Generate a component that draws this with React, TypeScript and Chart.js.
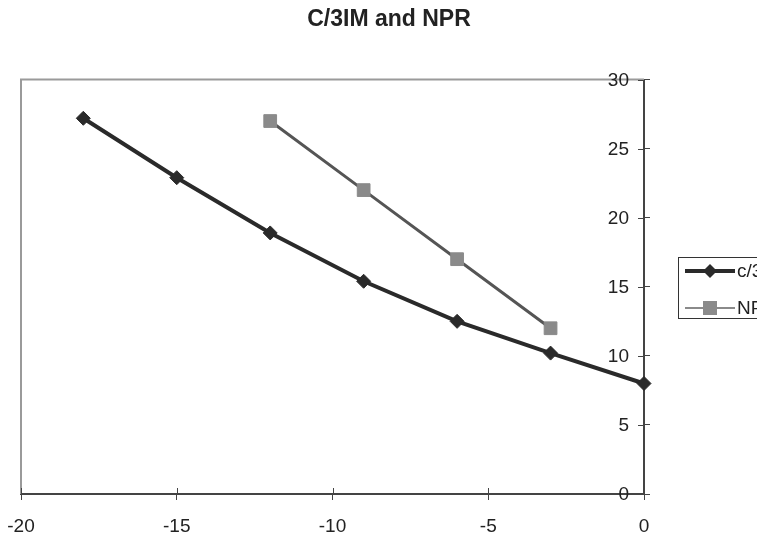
import React, { useEffect, useRef } from "react";
import { Chart, registerables } from "chart.js";

Chart.register(...registerables);

const TITLE = "C/3IM and NPR";
const SERIES_NAMES = ["c/3IM", "NPR"];
const C3IM_X = [-18, -15, -12, -9, -6, -3, 0];
const C3IM_Y = [27.2, 22.9, 18.9, 15.4, 12.5, 10.2, 8];
const NPR_X = [-12, -9, -6, -3];
const NPR_Y = [27, 22, 17, 12];
const X_MIN = -20;
const X_MAX = 0;
const X_STEP = 5;
const Y_MIN = 0;
const Y_MAX = 30;
const Y_STEP = 5;

const FONT = '"Liberation Sans", Arial, Helvetica, sans-serif';
const C3IM_COLOR = "#2a2a2a";
const NPR_LINE = "#555555";
const NPR_MARK = "#8a8a8a";
const AXIS = "#444444";

const decorPlugin = {
  id: "decor",
  beforeDatasetsDraw(chart: any) {
    const { ctx, chartArea } = chart;
    ctx.save();
    ctx.strokeStyle = "#9a9a9a";
    ctx.lineWidth = 2;
    ctx.beginPath();
    ctx.moveTo(chartArea.left, chartArea.bottom);
    ctx.lineTo(chartArea.left, chartArea.top);
    ctx.lineTo(chartArea.right, chartArea.top);
    ctx.stroke();
    // inner halves of the crossing tick marks
    ctx.strokeStyle = AXIS;
    ctx.lineWidth = 1;
    const xs = chart.scales.x;
    const ys = chart.scales.y;
    ctx.beginPath();
    xs.ticks.forEach((t: any) => {
      const px = Math.round(xs.getPixelForValue(t.value)) + 0.5;
      ctx.moveTo(px, chartArea.bottom);
      ctx.lineTo(px, chartArea.bottom - 6);
    });
    ys.ticks.forEach((t: any) => {
      const py = Math.round(ys.getPixelForValue(t.value)) + 0.5;
      ctx.moveTo(chartArea.right, py);
      ctx.lineTo(chartArea.right - 6, py);
    });
    ctx.stroke();
    ctx.restore();
  },
  afterDraw(chart: any) {
    const { ctx, chartArea } = chart;
    ctx.save();
    // y tick labels, placed inside the plot to the left of the axis
    const ys = chart.scales.y;
    ctx.fillStyle = "#222";
    ctx.font = `19px ${FONT}`;
    ctx.textAlign = "right";
    ctx.textBaseline = "middle";
    ys.ticks.forEach((t: any) => {
      const py = ys.getPixelForValue(t.value);
      ctx.fillText(String(t.label), chartArea.right - 15, py + 1);
    });

    // legend
    const bx = chartArea.right + 34;
    const by = 257;
    ctx.fillStyle = "#ffffff";
    ctx.fillRect(bx, by, 200, 61);
    ctx.strokeStyle = "#333";
    ctx.lineWidth = 1;
    ctx.strokeRect(bx + 0.5, by + 0.5, 200, 61);
    const r1 = by + 14;
    ctx.strokeStyle = C3IM_COLOR;
    ctx.lineWidth = 4;
    ctx.beginPath();
    ctx.moveTo(bx + 7, r1);
    ctx.lineTo(bx + 57, r1);
    ctx.stroke();
    ctx.fillStyle = C3IM_COLOR;
    ctx.beginPath();
    const cx = bx + 32;
    ctx.moveTo(cx, r1 - 7);
    ctx.lineTo(cx + 7, r1);
    ctx.lineTo(cx, r1 + 7);
    ctx.lineTo(cx - 7, r1);
    ctx.closePath();
    ctx.fill();
    const r2 = by + 51;
    ctx.strokeStyle = NPR_MARK;
    ctx.lineWidth = 2;
    ctx.beginPath();
    ctx.moveTo(bx + 7, r2);
    ctx.lineTo(bx + 57, r2);
    ctx.stroke();
    ctx.fillStyle = NPR_MARK;
    ctx.fillRect(cx - 7, r2 - 7, 14, 14);
    ctx.fillStyle = "#222";
    ctx.font = `19px ${FONT}`;
    ctx.textBaseline = "middle";
    ctx.textAlign = "left";
    ctx.fillText(SERIES_NAMES[0], bx + 59, r1 + 1);
    ctx.fillText(SERIES_NAMES[1], bx + 59, r2 + 1);
    ctx.restore();
  },
};

export default function App() {
  const ref = useRef<HTMLCanvasElement | null>(null);
  useEffect(() => {
    if (!ref.current) return;
    const chart = new Chart(ref.current, {
      type: "line",
      data: {
        datasets: [
          {
            label: SERIES_NAMES[0],
            data: C3IM_X.map((x, i) => ({ x, y: C3IM_Y[i] })),
            borderColor: C3IM_COLOR,
            backgroundColor: C3IM_COLOR,
            borderWidth: 4,
            pointStyle: "rectRot",
            pointRadius: 7,
            pointBorderWidth: 1,
            pointBackgroundColor: C3IM_COLOR,
            pointBorderColor: C3IM_COLOR,
            tension: 0,
            clip: false,
          },
          {
            label: SERIES_NAMES[1],
            data: NPR_X.map((x, i) => ({ x, y: NPR_Y[i] })),
            borderColor: NPR_LINE,
            backgroundColor: NPR_MARK,
            borderWidth: 3,
            pointStyle: "rect",
            pointRadius: 9,
            pointBorderWidth: 1,
            pointBackgroundColor: NPR_MARK,
            pointBorderColor: NPR_MARK,
            tension: 0,
            clip: false,
          },
        ],
      },
      options: {
        animation: false,
        responsive: false,
        layout: { padding: { left: 21, right: 0, top: 0, bottom: 0 } },
        plugins: {
          legend: { display: false },
          tooltip: { enabled: false },
          title: {
            display: true,
            text: TITLE,
            color: "#222",
            font: { family: FONT, size: 23, weight: "bold" },
            padding: { top: 6, bottom: 46 },
          },
        },
        scales: {
          x: {
            type: "linear",
            position: "bottom",
            min: X_MIN,
            max: X_MAX,
            ticks: {
              stepSize: X_STEP,
              color: "#222",
              font: { family: FONT, size: 19 },
              padding: 15,
            },
            grid: { drawOnChartArea: false, drawTicks: true, tickLength: 6, color: AXIS, lineWidth: 1 },
            border: { color: AXIS, width: 2 },
            afterFit: (s: any) => {
              s.height = 42;
              s.paddingLeft = 0;
              s.paddingRight = 0;
            },
          },
          y: {
            type: "linear",
            position: "right",
            min: Y_MIN,
            max: Y_MAX,
            ticks: {
              stepSize: Y_STEP,
              display: false,
            },
            grid: { drawOnChartArea: false, drawTicks: true, tickLength: 6, color: AXIS, lineWidth: 1 },
            border: { color: AXIS, width: 2 },
            afterFit: (s: any) => {
              s.width = 113;
              s.paddingTop = 0;
              s.paddingBottom = 0;
            },
          },
        },
      },
      plugins: [decorPlugin],
    });
    return () => chart.destroy();
  }, []);
  return (
    <div style={{ position: "absolute", left: 0, top: 0, width: 757, height: 536, background: "#fff" }}>
      <canvas ref={ref} width={757} height={536} style={{ display: "block" }} />
    </div>
  );
}
